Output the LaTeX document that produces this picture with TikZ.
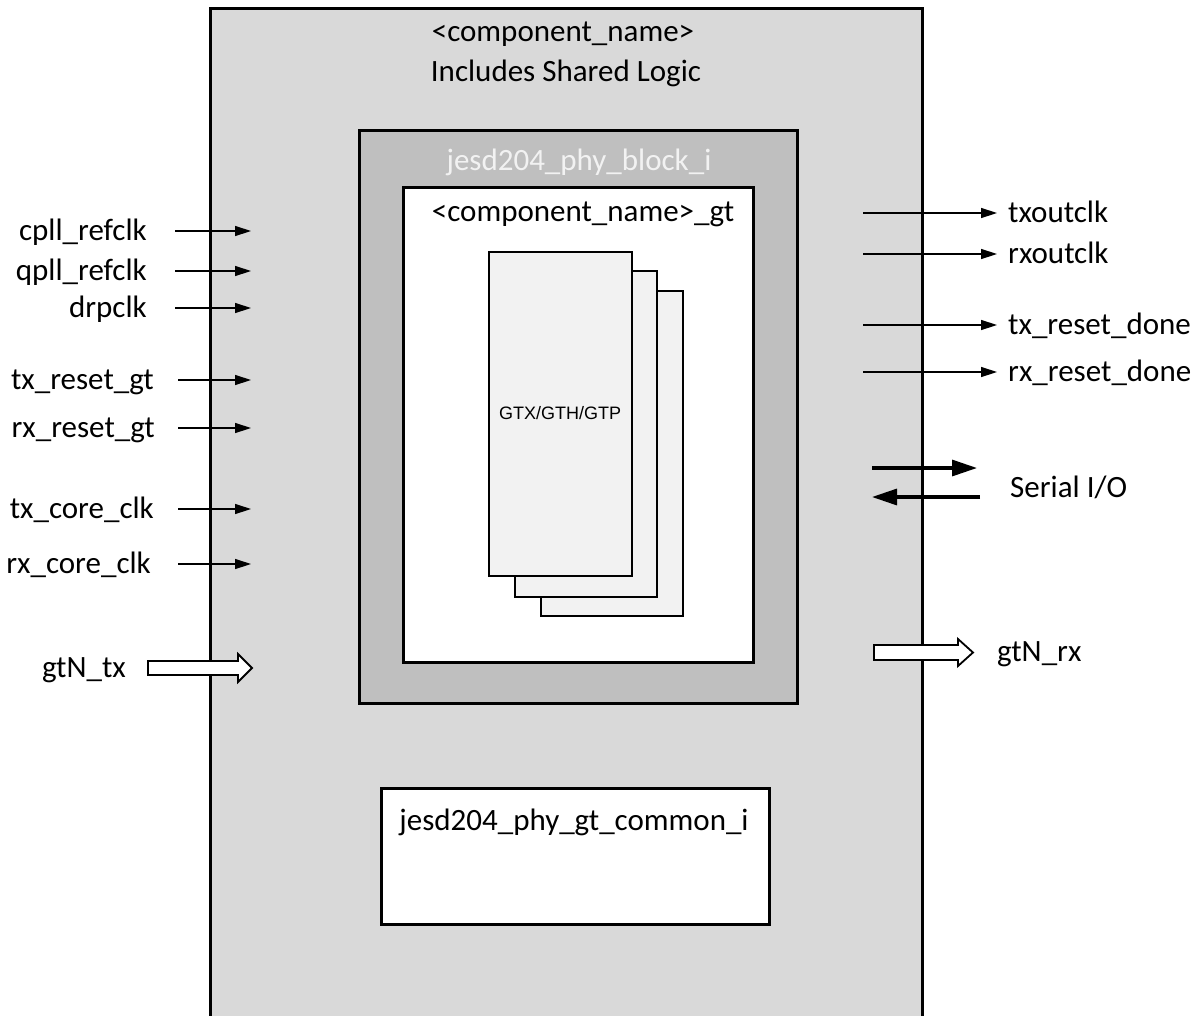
\documentclass[tikz,border=0pt]{standalone}
\usepackage{fontspec}
\setmainfont{Carlito}
\newfontfamily\arialfont{Liberation Sans}
\usetikzlibrary{arrows.meta}

\definecolor{outerfill}{HTML}{D9D9D9}
\definecolor{blockfill}{HTML}{BFBFBF}
\definecolor{cardfill}{HTML}{F2F2F2}

\tikzset{
  box/.style={draw=black, line width=3pt},
  card/.style={draw=black, line width=2.4pt, fill=cardfill},
  lbl/.style={inner sep=0pt, font=\fontsize{31}{36}\selectfont},
  sig/.style={line width=1.4pt, -{Triangle[length=16pt,width=10pt]}},
  serial/.style={line width=3.2pt, -{Triangle[length=25pt,width=16pt]}},
  busarrow/.style={draw=black, line width=1.8pt, fill=white},
}

\begin{document}
\begin{tikzpicture}[x=1pt, y=-1pt]
\useasboundingbox (0,0) rectangle (1202,1015);
\fill[white] (0,0) rectangle (1202,1015);

% outer component box (runs off the bottom edge)
\draw[box, fill=outerfill] (210,1040) -- (210,8) -- (922,8) -- (922,1040);
\node[lbl, anchor=base] (title1) at (563,41) {<component\_name>};
\node[lbl, anchor=base] (title2) at (566,81) {Includes Shared Logic};

% phy block
\draw[box, fill=blockfill] (359,130) rectangle (797,703);
\node[lbl, anchor=base, text=cardfill] (phylbl) at (579,170) {jesd204\_phy\_block\_i};

% transceiver wrapper
\draw[box, fill=white] (403,187) rectangle (753,662);
\node[lbl, anchor=base] (gtlbl) at (583,221) {<component\_name>\_gt};

% stacked transceiver channels
\draw[card] (541,291) rectangle (683,616);
\draw[card] (515,271) rectangle (657,597);
\draw[card] (489,252) rectangle (632,576);
\node[inner sep=0pt, font=\arialfont\fontsize{18}{21}\selectfont] (gtx) at (560,413) {GTX/GTH/GTP};

% common block
\draw[box, fill=white] (381,788) rectangle (769,924);
\node[lbl, anchor=base] (common) at (574,830) {jesd204\_phy\_gt\_common\_i};

% input clocks and resets
\foreach \nm/\txt/\xs/\xe/\yy in {
  cpll/cpll\_refclk/147/175/231,
  qpll/qpll\_refclk/147/175/271,
  drp/drpclk/147/175/308,
  txrst/tx\_reset\_gt/154/178/380,
  rxrst/rx\_reset\_gt/155/178/428,
  txcore/tx\_core\_clk/154/178/509,
  rxcore/rx\_core\_clk/151/178/564}{
  \node[lbl, anchor=base east] (\nm) at (\xs,\yy+9) {\txt};
  \coordinate (\nm-s) at (\xe,\yy);
  \coordinate (\nm-e) at (251,\yy);
  \draw[sig] (\nm-s) -- (\nm-e);
}

% output clocks and status
\foreach \nm/\txt/\yy in {
  txout/txoutclk/213,
  rxout/rxoutclk/254,
  txdone/tx\_reset\_done/325,
  rxdone/rx\_reset\_done/372}{
  \coordinate (\nm-s) at (863,\yy);
  \coordinate (\nm-e) at (997,\yy);
  \node[lbl, anchor=base west] (\nm) at (1008,\yy+9) {\txt};
  \draw[sig] (\nm-s) -- (\nm-e);
}

% serial lanes
\coordinate (ser-a) at (872,468);
\coordinate (ser-b) at (977,468);
\coordinate (ser-c) at (980,497);
\coordinate (ser-d) at (872,497);
\draw[serial] (ser-a) -- (ser-b);
\draw[serial] (ser-c) -- (ser-d);
\node[lbl, anchor=base west] (serial) at (1010,497) {Serial I/O};

% parallel data buses
\node[lbl, anchor=base east] (gtntx) at (126,677) {gtN\_tx};
\draw[busarrow] (148,661) -- (238,661) -- (238,654) -- (252,668) -- (238,682) -- (238,675) -- (148,675) -- cycle;
\node[lbl, anchor=base west] (gtnrx) at (997,661) {gtN\_rx};
\draw[busarrow] (874,645) -- (958,645) -- (958,639) -- (973,652.5) -- (958,666) -- (958,660) -- (874,660) -- cycle;
\end{tikzpicture}
\end{document}
